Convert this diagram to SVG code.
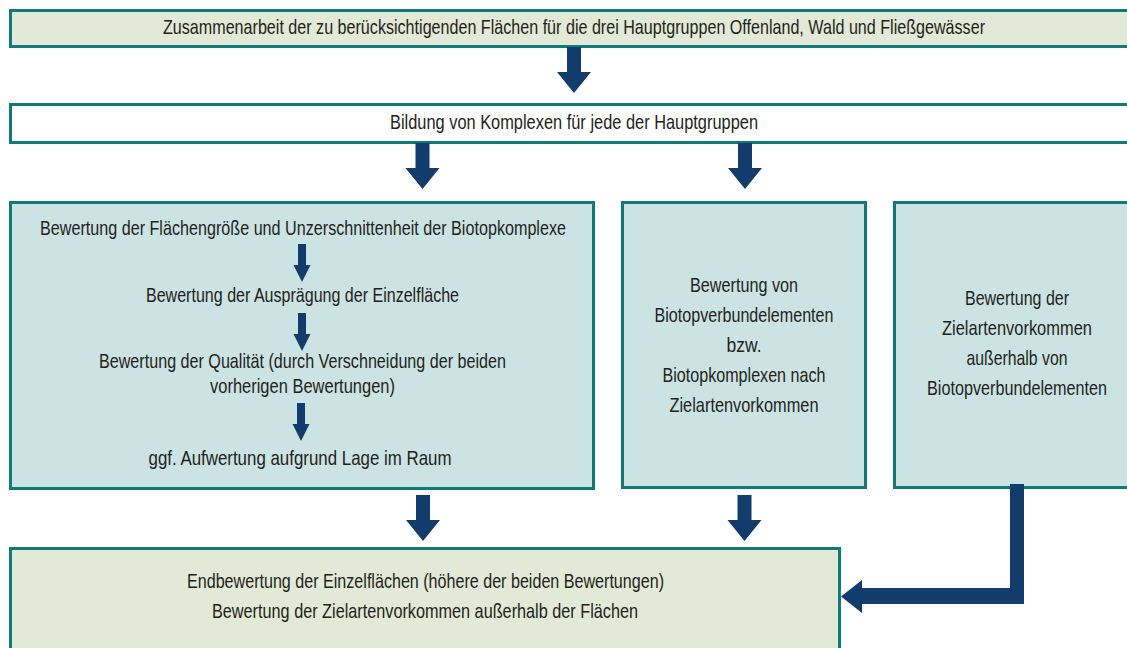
<svg xmlns="http://www.w3.org/2000/svg" xmlns:xlink="http://www.w3.org/1999/xlink" width="1127" height="648" viewBox="0 0 1127 648">
<style>
  .box { stroke: #0f7a78; stroke-width: 3; }
  .edge { fill: none; stroke: #0f7a78; stroke-width: 3; }
  .green { fill: #e2e9d6; }
  .blue { fill: #cce3e3; }
  .white { fill: #ffffff; }
  .arrow { fill: #123c6c; }
  text { font-family: "Liberation Sans", Arial, sans-serif; font-size: 21px; fill: #231f20; text-anchor: middle; }
</style>
<defs>
  <path id="bigArrow" d="M-7,0 H7 V25 H17 L0,46 L-17,25 H-7 Z"/>
  <path id="smallArrow" d="M-4,0 H4 V21 H8.5 L0,38 L-8.5,21 H-4 Z"/>
</defs>
<rect width="1127" height="648" fill="#ffffff"/>

<g id="node-top">
  <rect class="green" x="10.5" y="10.5" width="1116.5" height="36"/>
  <path class="edge" d="M1127,10.5 H10.5 V46.5 H1127"/>
  <text x="574" y="34" textLength="822" lengthAdjust="spacingAndGlyphs">Zusammenarbeit der zu berücksichtigenden Flächen für die drei Hauptgruppen Offenland, Wald und Fließgewässer</text>
</g>

<g id="node-komplexe">
  <rect class="white" x="10.5" y="104.5" width="1116.5" height="38"/>
  <path class="edge" d="M1127,104.5 H10.5 V142.5 H1127"/>
  <text x="574" y="129" textLength="368" lengthAdjust="spacingAndGlyphs">Bildung von Komplexen für jede der Hauptgruppen</text>
</g>

<g id="node-bewertung-flaeche">
  <rect class="box blue" x="10.5" y="202.5" width="583" height="286"/>
  <text x="303" y="235" textLength="526" lengthAdjust="spacingAndGlyphs">Bewertung der Flächengröße und Unzerschnittenheit der Biotopkomplexe</text>
  <text x="302.5" y="302" textLength="313" lengthAdjust="spacingAndGlyphs">Bewertung der Ausprägung der Einzelfläche</text>
  <text x="302.5" y="368" textLength="407" lengthAdjust="spacingAndGlyphs">Bewertung der Qualität (durch Verschneidung der beiden</text>
  <text x="302.5" y="393" textLength="185" lengthAdjust="spacingAndGlyphs">vorherigen Bewertungen)</text>
  <text x="300" y="465" textLength="303" lengthAdjust="spacingAndGlyphs">ggf. Aufwertung aufgrund Lage im Raum</text>
</g>

<g id="node-biotopverbund">
  <rect class="box blue" x="622.5" y="202.5" width="243" height="285"/>
  <text x="744" y="292" textLength="108" lengthAdjust="spacingAndGlyphs">Bewertung von</text>
  <text x="744" y="322" textLength="179" lengthAdjust="spacingAndGlyphs">Biotopverbundelementen</text>
  <text x="744" y="352" textLength="35" lengthAdjust="spacingAndGlyphs">bzw.</text>
  <text x="744" y="382" textLength="163" lengthAdjust="spacingAndGlyphs">Biotopkomplexen nach</text>
  <text x="744" y="412" textLength="149" lengthAdjust="spacingAndGlyphs">Zielartenvorkommen</text>
</g>

<g id="node-zielarten">
  <rect class="blue" x="894.5" y="202.5" width="232.5" height="285"/>
  <path class="edge" d="M1127,202.5 H894.5 V487.5 H1127"/>
  <text x="1017" y="305" textLength="104" lengthAdjust="spacingAndGlyphs">Bewertung der</text>
  <text x="1017" y="335" textLength="150" lengthAdjust="spacingAndGlyphs">Zielartenvorkommen</text>
  <text x="1017" y="365" textLength="101" lengthAdjust="spacingAndGlyphs">außerhalb von</text>
  <text x="1017" y="395" textLength="180" lengthAdjust="spacingAndGlyphs">Biotopverbundelementen</text>
</g>

<g id="node-endbewertung">
  <rect class="green" x="10.5" y="548.5" width="829" height="99.5"/>
  <path class="edge" d="M10.5,648 V548.5 H839.5 V648"/>
  <text x="425.5" y="588" textLength="477" lengthAdjust="spacingAndGlyphs">Endbewertung der Einzelflächen (höhere der beiden Bewertungen)</text>
  <text x="425" y="618" textLength="426" lengthAdjust="spacingAndGlyphs">Bewertung der Zielartenvorkommen außerhalb der Flächen</text>
</g>

<g id="connectors" class="arrow">
  <use xlink:href="#bigArrow" href="#bigArrow" x="574" y="47"/>
  <use xlink:href="#bigArrow" href="#bigArrow" x="422.5" y="143"/>
  <use xlink:href="#bigArrow" href="#bigArrow" x="745" y="143"/>
  <use xlink:href="#smallArrow" href="#smallArrow" x="302" y="244"/>
  <use xlink:href="#smallArrow" href="#smallArrow" x="302" y="313"/>
  <use xlink:href="#smallArrow" href="#smallArrow" x="301" y="403"/>
  <use xlink:href="#bigArrow" href="#bigArrow" x="423" y="495"/>
  <use xlink:href="#bigArrow" href="#bigArrow" x="744.5" y="495"/>
  <path d="M1010,484 L1024,484 L1024,604 L862,604 L862,613 L841,596.5 L862,580 L862,588 L1010,588 Z"/>
</g>
</svg>
